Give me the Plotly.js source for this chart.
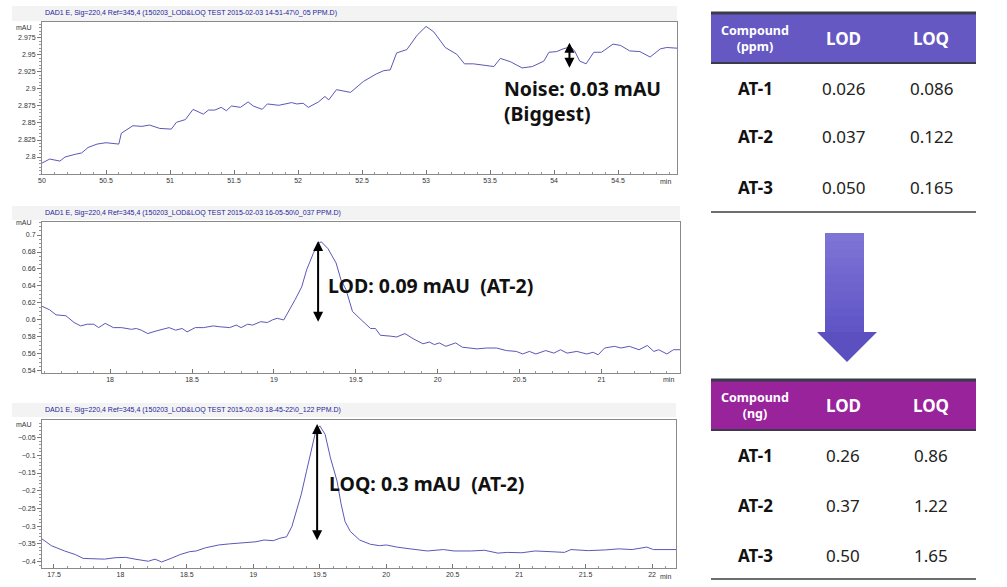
<!DOCTYPE html>
<html><head><meta charset="utf-8">
<script src="https://cdn.plot.ly/plotly-3.0.1.min.js"></script>
<style>html,body{margin:0;padding:0;background:#fff;}#chart{width:1007px;height:587px;}</style>
</head><body><div id="chart"></div>
<script>
// ---------- data ----------
const topTitle = "DAD1 E, Sig=220,4 Ref=345,4 (150203_LOD&amp;LOQ TEST 2015-02-03 14-51-47\\0_05 PPM.D)";
const midTitle = "DAD1 E, Sig=220,4 Ref=345,4 (150203_LOD&amp;LOQ TEST 2015-02-03 16-05-50\\0_037 PPM.D)";
const botTitle = "DAD1 E, Sig=220,4 Ref=345,4 (150203_LOD&amp;LOQ TEST 2015-02-03 18-45-22\\0_122 PPM.D)";

const topTime = [50.0,50.06,50.14,50.18,50.26,50.31,50.36,50.43,50.5,50.6,50.62,50.71,50.78,50.84,50.92,51.01,51.05,51.12,51.18,51.26,51.30,51.35,51.40,51.44,51.48,51.55,51.61,51.65,51.72,51.76,51.85,51.95,51.99,52.04,52.08,52.16,52.21,52.24,52.30,52.35,52.41,52.51,52.61,52.67,52.72,52.77,52.85,52.93,53.0,53.06,53.11,53.15,53.24,53.30,53.37,53.47,53.53,53.58,53.66,53.75,53.83,53.92,53.96,54.02,54.07,54.13,54.16,54.20,54.25,54.31,54.37,54.46,54.52,54.59,54.67,54.75,54.83,54.88,54.96];
const topSignal = [2.791,2.797,2.794,2.800,2.804,2.806,2.814,2.819,2.821,2.819,2.835,2.846,2.845,2.847,2.842,2.841,2.851,2.855,2.870,2.863,2.869,2.869,2.873,2.868,2.875,2.873,2.881,2.875,2.870,2.878,2.876,2.880,2.878,2.879,2.873,2.881,2.889,2.884,2.899,2.897,2.895,2.911,2.922,2.927,2.928,2.953,2.958,2.979,2.992,2.984,2.971,2.961,2.951,2.937,2.937,2.934,2.933,2.945,2.940,2.931,2.933,2.941,2.954,2.955,2.959,2.962,2.956,2.941,2.937,2.954,2.954,2.966,2.964,2.956,2.955,2.947,2.959,2.961,2.960];

const midTime = [17.58,17.63,17.67,17.73,17.78,17.82,17.86,17.90,17.93,17.97,18.02,18.07,18.13,18.16,18.19,18.23,18.28,18.33,18.36,18.40,18.44,18.47,18.52,18.57,18.63,18.67,18.73,18.77,18.80,18.84,18.87,18.92,18.96,18.99,19.02,19.06,19.09,19.13,19.17,19.20,19.24,19.27,19.29,19.33,19.38,19.41,19.44,19.48,19.54,19.59,19.62,19.65,19.71,19.75,19.80,19.85,19.91,19.95,19.98,20.01,20.05,20.11,20.15,20.24,20.30,20.36,20.42,20.48,20.52,20.56,20.60,20.66,20.71,20.75,20.79,20.85,20.91,20.95,20.98,21.02,21.08,21.12,21.17,21.23,21.28,21.32,21.35,21.40,21.44,21.48];
const midSignal = [0.6165,0.612,0.606,0.605,0.597,0.593,0.595,0.595,0.591,0.596,0.591,0.591,0.589,0.590,0.588,0.584,0.587,0.589,0.591,0.588,0.590,0.586,0.591,0.591,0.593,0.592,0.591,0.594,0.591,0.595,0.594,0.598,0.597,0.600,0.602,0.600,0.610,0.624,0.639,0.659,0.678,0.690,0.692,0.684,0.667,0.647,0.636,0.610,0.599,0.590,0.590,0.582,0.581,0.580,0.584,0.578,0.572,0.574,0.571,0.573,0.569,0.573,0.568,0.566,0.567,0.567,0.564,0.563,0.560,0.563,0.560,0.564,0.561,0.565,0.561,0.563,0.560,0.562,0.559,0.567,0.569,0.567,0.569,0.565,0.570,0.563,0.565,0.560,0.565,0.565];

const botTime = [17.41,17.48,17.58,17.66,17.72,17.83,17.88,17.96,18.04,18.11,18.21,18.26,18.31,18.38,18.45,18.52,18.57,18.64,18.74,18.82,18.89,18.96,19.02,19.08,19.15,19.20,19.25,19.29,19.32,19.36,19.40,19.44,19.47,19.50,19.54,19.58,19.63,19.66,19.69,19.73,19.80,19.88,19.95,20.0,20.08,20.18,20.31,20.43,20.51,20.64,20.74,20.84,20.91,21.02,21.12,21.24,21.34,21.39,21.52,21.65,21.75,21.85,21.92,21.96,22.01,22.10,22.18];
const botSignal = [-0.336,-0.355,-0.370,-0.380,-0.391,-0.391,-0.393,-0.389,-0.388,-0.393,-0.399,-0.393,-0.401,-0.391,-0.380,-0.372,-0.370,-0.361,-0.353,-0.350,-0.348,-0.344,-0.344,-0.339,-0.341,-0.334,-0.330,-0.301,-0.263,-0.211,-0.145,-0.078,-0.031,-0.017,-0.041,-0.107,-0.173,-0.237,-0.287,-0.315,-0.339,-0.351,-0.355,-0.353,-0.359,-0.364,-0.370,-0.366,-0.370,-0.370,-0.368,-0.376,-0.374,-0.375,-0.370,-0.372,-0.374,-0.366,-0.369,-0.367,-0.364,-0.366,-0.362,-0.359,-0.366,-0.366,-0.366];

const topXTicks = [50,50.5,51,51.5,52,52.5,53,53.5,54,54.5];
const topYTicks = [2.8,2.825,2.85,2.875,2.9,2.925,2.95,2.975];
const midXTicks = [18,18.5,19,19.5,20,20.5,21];
const midYTicks = [0.54,0.56,0.58,0.6,0.62,0.64,0.66,0.68,0.7];
const botXTicks = [17.5,18,18.5,19,19.5,20,20.5,21,21.5,22];
const botYTicks = [-0.4,-0.35,-0.3,-0.25,-0.2,-0.15,-0.1,-0.05];

// measurement arrows (time, [top, bottom] signal)
const noiseTime = 54.12, noiseRange = [2.968, 2.929];
const lodTime = 19.27, lodRange = [0.693, 0.596];
const loqTime = 19.48, loqRange = [-0.012, -0.344];
const noiseLabel = "Noise: 0.03 mAU<br>(Biggest)";
const lodLabel = "LOD: 0.09 mAU\u00a0 (AT-2)";
const loqLabel = "LOQ: 0.3 mAU\u00a0 (AT-2)";

// tables
const compounds = ["AT-1","AT-2","AT-3"];
const ppmHeader = ["Compound<br>(ppm)","LOD","LOQ"];
const ppmLOD = ["0.026","0.037","0.050"];
const ppmLOQ = ["0.086","0.122","0.165"];
const ngHeader = ["Compound<br>(ng)","LOD","LOQ"];
const ngLOD = ["0.26","0.37","0.50"];
const ngLOQ = ["0.86","1.22","1.65"];

// ---------- helpers ----------
const W = 1007, H = 587;
const px = x => x / W;
const py = y => 1 - y / H;
const lineColor = '#5b58b6';
const axFont = {family: 'Liberation Sans, Arial, sans-serif', size: 7, color: '#333'};

function xAxis(l, r, range, ticks, anchor) {
  return {domain: [px(l), px(r)], anchor: anchor, range: range, tickmode: 'array', tickvals: ticks,
    showline: true, linecolor: '#8a8a8a', linewidth: 1, mirror: true, ticks: 'inside', ticklen: 4,
    tickcolor: '#777', tickfont: axFont, showgrid: false, zeroline: false, fixedrange: true,
    minor: {ticks: 'inside', ticklen: 2, dtick: 0.1, tickcolor: '#999'}};
}
function yAxis(t, b, range, ticks, anchor, minorDt) {
  return {domain: [py(b), py(t)], anchor: anchor, range: range, tickmode: 'array', tickvals: ticks,
    showline: true, linecolor: '#8a8a8a', linewidth: 1, mirror: true, ticks: 'outside', ticklen: 4,
    tickcolor: '#777', tickfont: axFont, showgrid: false, zeroline: false, fixedrange: true,
    minor: {ticks: 'outside', ticklen: 2, dtick: minorDt, tickcolor: '#999'}};
}

const traces = [
  {x: topTime, y: topSignal, xaxis: 'x', yaxis: 'y', type: 'scatter', mode: 'lines', line: {color: lineColor, width: 1}},
  {x: midTime, y: midSignal, xaxis: 'x2', yaxis: 'y2', type: 'scatter', mode: 'lines', line: {color: lineColor, width: 1}},
  {x: botTime, y: botSignal, xaxis: 'x3', yaxis: 'y3', type: 'scatter', mode: 'lines', line: {color: lineColor, width: 1}}
];

const annotations = [];
const shapes = [];
function paperText(text, x, y, opts) {
  annotations.push(Object.assign({text: text, x: px(x), y: py(y), xref: 'paper', yref: 'paper',
    showarrow: false, xanchor: 'center', yanchor: 'middle'}, opts || {}));
}
function rect(x0, y0, x1, y1, fill, layer) {
  shapes.push({type: 'rect', xref: 'paper', yref: 'paper', x0: px(x0), x1: px(x1), y0: py(y1), y1: py(y0),
    fillcolor: fill, line: {width: 0}, layer: layer || 'below'});
}
function hline(x0, x1, y, color, width) {
  shapes.push({type: 'line', xref: 'paper', yref: 'paper', x0: px(x0), x1: px(x1), y0: py(y), y1: py(y),
    line: {color: color, width: width}});
}

// chromatogram titles & labels
const titleFont = {family: 'Liberation Sans, Arial, sans-serif', size: 7, color: '#23239a'};
rect(12, 6, 677, 21, '#f3f3f3');
rect(12, 206, 680, 220, '#f3f3f3');
rect(12, 403, 676, 417, '#f3f3f3');
paperText(topTitle, 43, 13, {xanchor: 'left', font: titleFont});
paperText(midTitle, 43, 213, {xanchor: 'left', font: titleFont});
paperText(botTitle, 43, 410, {xanchor: 'left', font: titleFont});
paperText('mAU', 34, 27, {xanchor: 'right', font: axFont});
paperText('mAU', 34, 223, {xanchor: 'right', font: axFont});
paperText('mAU', 34, 424, {xanchor: 'right', font: axFont});
paperText('min', 673, 181, {xanchor: 'right', font: axFont});
paperText('min', 676, 380, {xanchor: 'right', font: axFont});
paperText('min', 673, 576, {xanchor: 'right', font: axFont});

// measurement arrows
function measureArrow(xr, yr, t, range) {
  annotations.push({xref: xr, yref: yr, axref: xr, ayref: yr, x: t, y: range[0], ax: t, ay: range[1],
    text: '', showarrow: true, arrowhead: 2, arrowside: 'end+start', arrowsize: 1, arrowwidth: 2, arrowcolor: '#000'});
}
measureArrow('x', 'y', noiseTime, noiseRange);
measureArrow('x2', 'y2', lodTime, lodRange);
measureArrow('x3', 'y3', loqTime, loqRange);
const bigFont = {family: 'Noto Sans, sans-serif', size: 19.5, color: '#111'};
paperText('<b>' + noiseLabel + '</b>', 502, 101, {xanchor: 'left', align: 'left', font: bigFont});
paperText('<b>' + lodLabel + '</b>', 326, 285, {xanchor: 'left', font: bigFont});
paperText('<b>' + loqLabel + '</b>', 327, 483, {xanchor: 'left', font: bigFont});

// tables
const colX = [755, 843, 931];
function drawTable(top, headerColor, header, lod, loq, rowY, bottom) {
  rect(711, top, 976, top + 50, headerColor);
  hline(711, 976, top, '#3a3a4a', 3);
  hline(711, 976, top + 50, '#3a3a4a', 2);
  hline(711, 976, bottom, '#6e6e6e', 2);
  paperText('<b>' + header[0] + '</b>', colX[0], top + 25, {font: {family: 'Noto Sans, sans-serif', size: 12.5, color: '#fff'}});
  paperText('<b>' + header[1] + '</b>', colX[1], top + 25, {font: {family: 'Noto Sans, sans-serif', size: 17, color: '#fff'}});
  paperText('<b>' + header[2] + '</b>', colX[2], top + 25, {font: {family: 'Noto Sans, sans-serif', size: 17, color: '#fff'}});
  compounds.forEach((c, i) => {
    paperText('<b>' + c + '</b>', colX[0], rowY[i], {font: {family: 'Noto Sans, sans-serif', size: 17, color: '#111'}});
    paperText(lod[i], colX[1], rowY[i], {font: {family: 'Noto Sans, sans-serif', size: 17, color: '#222'}});
    paperText(loq[i], colX[2], rowY[i], {font: {family: 'Noto Sans, sans-serif', size: 17, color: '#222'}});
  });
}
drawTable(13, '#6558c2', ppmHeader, ppmLOD, ppmLOQ, [88, 137, 187], 212);
drawTable(380, '#98239b', ngHeader, ngLOD, ngLOQ, [455, 505, 555], 579);

// big down arrow (gradient shaft)
const slices = 12, sTop = 233, sBot = 333;
for (let i = 0; i < slices; i++) {
  const f = i / (slices - 1);
  const r = Math.round(126 - f * 30), g = Math.round(116 - f * 32), b = Math.round(213 - f * 14);
  const y0 = sTop + (sBot - sTop) * i / slices, y1 = sTop + (sBot - sTop) * (i + 1) / slices + 0.6;
  rect(825, y0, 864, y1, `rgb(${r},${g},${b})`, 'above');
}
shapes.push({type: 'path', xref: 'paper', yref: 'paper', layer: 'above',
  path: `M ${px(817)},${py(332)} L ${px(877)},${py(332)} L ${px(847)},${py(362)} Z`,
  fillcolor: '#5c4fc0', line: {width: 0}});

const layout = {
  width: W, height: H, margin: {l: 0, r: 0, t: 0, b: 0}, paper_bgcolor: '#fff', plot_bgcolor: '#fff',
  showlegend: false,
  xaxis: xAxis(42, 677, [50, 54.96], topXTicks, 'y'),
  yaxis: yAxis(22, 174, [2.775, 2.9985], topYTicks, 'x', 0.005),
  xaxis2: xAxis(42, 680, [17.584, 21.48], midXTicks, 'y2'),
  yaxis2: yAxis(222, 373, [0.5376, 0.7153], midYTicks, 'x2', 0.005),
  xaxis3: xAxis(42, 676, [17.41, 22.18], botXTicks, 'y3'),
  yaxis3: yAxis(420, 568, [-0.418, -0.0005], botYTicks, 'x3', 0.01),
  annotations: annotations, shapes: shapes
};
Plotly.newPlot('chart', traces, layout, {displayModeBar: false, staticPlot: true});
</script></body></html>
